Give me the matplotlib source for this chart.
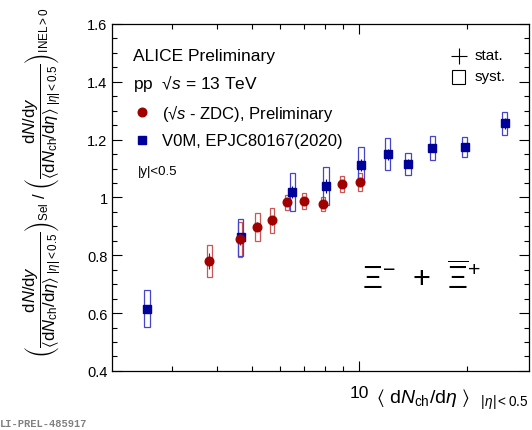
import numpy as np
import matplotlib
matplotlib.use("Agg")
import matplotlib.pyplot as plt
from matplotlib.patches import Rectangle
from matplotlib.ticker import FixedLocator, FuncFormatter, MultipleLocator, NullFormatter

plt.rcParams['font.family'] = ['Liberation Sans', 'DejaVu Sans']
plt.rcParams['mathtext.fontset'] = 'custom'
plt.rcParams['mathtext.rm'] = 'Liberation Sans'
plt.rcParams['mathtext.it'] = 'Liberation Sans:italic'
plt.rcParams['mathtext.bf'] = 'Liberation Sans:bold'
plt.rcParams['mathtext.fallback'] = 'stixsans'

# sqrt(s) - ZDC selection (preliminary)
zdc_x = [3.81, 4.63, 5.19, 5.71, 6.28, 7.02, 7.90, 8.96, 10.07]
zdc_y = [0.780, 0.855, 0.899, 0.921, 0.983, 0.988, 0.977, 1.047, 1.054]
zdc_stat = [0.027, 0.02, 0.015, 0.015, 0.012, 0.012, 0.015, 0.012, 0.012]
zdc_syst = [0.056, 0.06, 0.049, 0.043, 0.027, 0.028, 0.024, 0.029, 0.030]

# V0M, EPJC 80 167 (2020)
v0m_x = [2.55, 4.66, 6.50, 8.07, 10.1, 12.0, 13.7, 16.0, 19.7, 25.5]
v0m_y = [0.616, 0.862, 1.018, 1.040, 1.113, 1.149, 1.117, 1.171, 1.174, 1.256]
v0m_stat = [0.012, 0.015, 0.02, 0.025, 0.02, 0.02, 0.015, 0.015, 0.012, 0.02]
v0m_syst = [0.063, 0.063, 0.066, 0.065, 0.060, 0.055, 0.038, 0.042, 0.035, 0.040]

red = '#a00000'
red_box = '#cc5555'
blue = '#00009a'
blue_box = '#4444cc'

fig = plt.figure(figsize=(5.32, 4.31), dpi=100)
ax = fig.add_axes([0.21, 0.137, 0.784, 0.805])
ax.set_xscale('log')
ax.set_xlim(2.03, 29.8)
ax.set_ylim(0.4, 1.6)


def boxes(xs, ys, es, hw, color):
    for x, y, e in zip(xs, ys, es):
        x0 = x * 10 ** (-hw)
        x1 = x * 10 ** hw
        ax.add_patch(Rectangle((x0, y - e), x1 - x0, 2 * e, fill=False,
                               edgecolor=color, lw=0.9, zorder=2))


boxes(zdc_x, zdc_y, zdc_syst, 0.0058, red_box)
boxes(v0m_x, v0m_y, v0m_syst, 0.0075, blue_box)

ax.errorbar(zdc_x, zdc_y, yerr=zdc_stat, fmt='o', color=red, ms=6.2,
            elinewidth=0.8, capsize=0, zorder=4)
ax.errorbar(v0m_x, v0m_y, yerr=v0m_stat, fmt='s', color=blue, ms=6.0,
            elinewidth=0.8, capsize=0, zorder=3)

# ticks
ax.xaxis.set_major_locator(FixedLocator([10]))
ax.xaxis.set_major_formatter(FuncFormatter(lambda v, p: '%g' % v))
ax.xaxis.set_minor_locator(FixedLocator([3, 4, 5, 6, 7, 8, 9, 20]))
ax.xaxis.set_minor_formatter(NullFormatter())
ax.yaxis.set_major_locator(MultipleLocator(0.2))
ax.yaxis.set_minor_locator(MultipleLocator(0.05))
ax.yaxis.set_major_formatter(FuncFormatter(lambda v, p: '%g' % round(v, 2)))
ax.tick_params(which='both', direction='in', top=True, right=True)
ax.tick_params(which='major', length=7, width=0.8)
ax.tick_params(which='minor', length=3.8, width=0.8)
ax.tick_params(axis='x', pad=10, labelsize=12.5)
ax.tick_params(axis='y', pad=3, labelsize=10.5)
for s in ax.spines.values():
    s.set_linewidth(0.9)

# texts
ax.text(0.052, 0.908, 'ALICE Preliminary', transform=ax.transAxes, fontsize=12.5, va='center')
ax.text(0.052, 0.83, 'pp  √$s$ = 13 TeV', transform=ax.transAxes, fontsize=12.5, va='center')
ax.plot([0.072], [0.745], 'o', color=red, ms=6.2, transform=ax.transAxes)
ax.text(0.12, 0.745, '(√$s$ - ZDC), Preliminary', transform=ax.transAxes, fontsize=12, va='center')
ax.plot([0.072], [0.665], 's', color=blue, ms=6.0, transform=ax.transAxes)
ax.text(0.12, 0.665, 'V0M, EPJC80167(2020)', transform=ax.transAxes, fontsize=12, va='center')
ax.text(0.062, 0.575, '|y|<0.5', transform=ax.transAxes, fontsize=9.5, va='center')

ax.plot([0.832], [0.908], '+', color='k', ms=11, mew=0.8, transform=ax.transAxes)
ax.text(0.871, 0.912, 'stat.', transform=ax.transAxes, fontsize=11, va='center')
ax.add_patch(Rectangle((0.817, 0.828), 0.03, 0.04, fill=False, lw=0.8,
                       edgecolor='k', transform=ax.transAxes))
ax.text(0.871, 0.85, 'syst.', transform=ax.transAxes, fontsize=11, va='center')

ax.text(0.6, 0.265, r'$\Xi^{-}$  +  $\overline{\Xi}^{+}$', transform=ax.transAxes,
        fontsize=22, va='center')

# axis titles
fig.text(0.994, 0.072, r'$\langle\ \mathrm{d}N_{\mathrm{ch}}/\mathrm{d}\eta\ \rangle_{\ \ \ |\eta|<0.5}$',
         ha='right', va='center', fontsize=14)
ylab = (r'$\left(\dfrac{\mathrm{d}N/\mathrm{d}y}{\langle\mathrm{d}N_{\mathrm{ch}}/\mathrm{d}\eta\rangle_{\ |\eta|<0.5}}\right)_{\mathrm{Sel}}'
        r'\ /\ \left(\dfrac{\mathrm{d}N/\mathrm{d}y}{\langle\mathrm{d}N_{\mathrm{ch}}/\mathrm{d}\eta\rangle_{\ |\eta|<0.5}}\right)_{\mathrm{INEL>0}}$')
fig.text(0.08, 0.575, ylab, rotation=90, ha='center', va='center', fontsize=12)

fig.text(0.0, 0.005, 'LI-PREL-485917', family='Liberation Mono', fontsize=7.5,
         color='#808080', weight='bold', va='bottom')

fig.savefig('out.png', dpi=100)
